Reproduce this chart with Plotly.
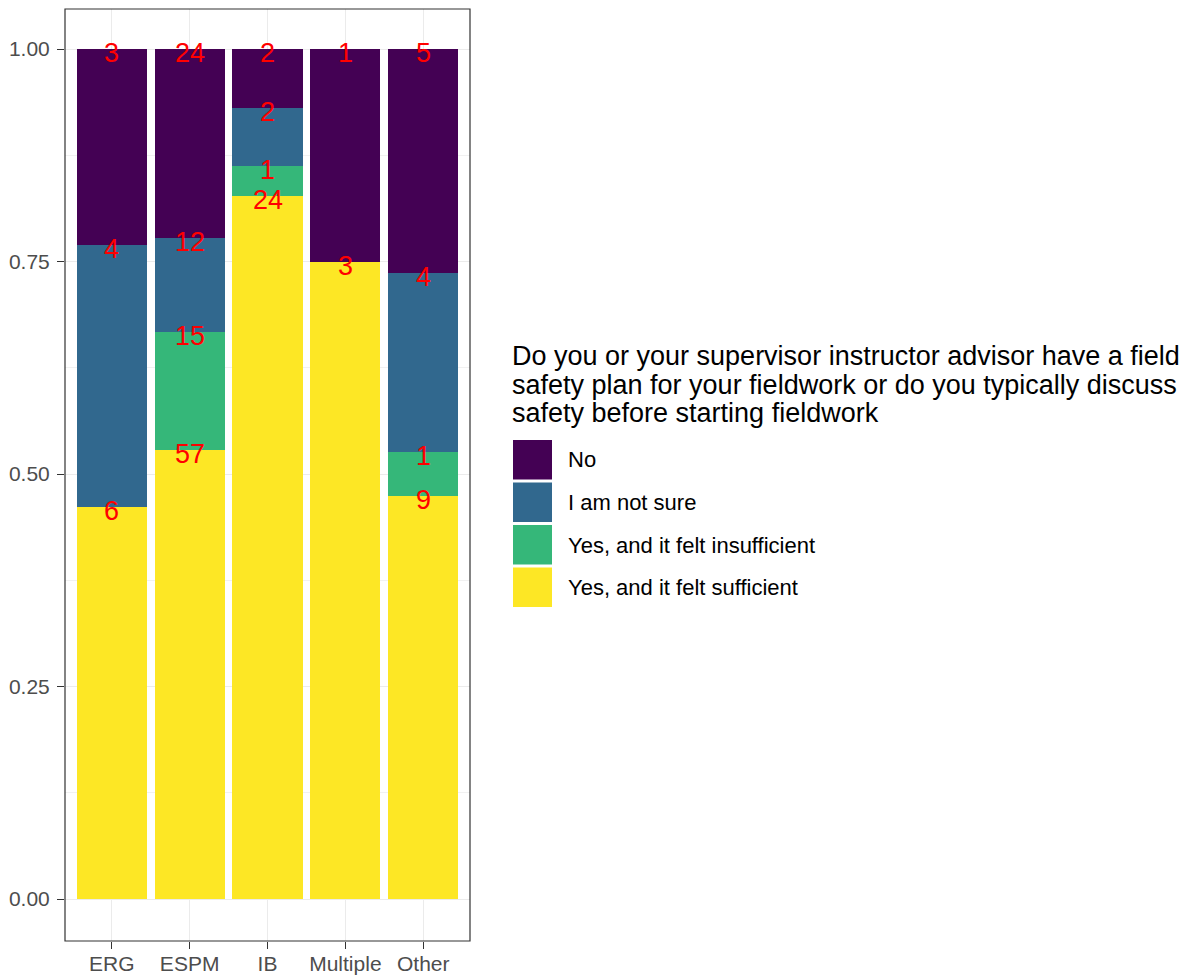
import plotly.graph_objects as go

# ---- data ----
categories = ["ERG", "ESPM", "IB", "Multiple", "Other"]
responses = ["No", "I am not sure", "Yes, and it felt insufficient", "Yes, and it felt sufficient"]
count_no = [3, 24, 2, 1, 5]
count_not_sure = [4, 12, 2, 0, 4]
count_insufficient = [0, 15, 1, 0, 1]
count_sufficient = [6, 57, 24, 3, 9]
colors = ["#440154", "#31688E", "#35B779", "#FDE725"]
legend_title_lines = [
    "Do you or your supervisor instructor advisor have a field",
    "safety plan for your fieldwork or do you typically discuss",
    "safety before starting fieldwork",
]
y_ticks = [0, 0.25, 0.5, 0.75, 1.0]
y_tick_labels = ["0.00", "0.25", "0.50", "0.75", "1.00"]

OFF = 8  # page body margin
W, H = 1196 - OFF, 977 - OFF
PANEL_L, PANEL_R, PANEL_T, PANEL_B = 65, 470, 9, 941  # page pixels
ML, MR, MT, MB = PANEL_L - OFF, W - (PANEL_R - OFF), PANEL_T - OFF, H - (PANEL_B - OFF)
PW = PANEL_R - PANEL_L
PH = PANEL_B - PANEL_T
Y0_PX, Y1_PX = 899, 49  # page pixel rows of 0 and 1
UNIT = (Y0_PX - Y1_PX)
Y_RANGE = [-(PANEL_B - Y0_PX) / UNIT, 1 + (Y1_PX - PANEL_T) / UNIT]
FONT = "Liberation Sans, Arial, Helvetica, sans-serif"


def px(x):
    return (x - PANEL_L) / PW


def py(y):
    return (PANEL_B - y) / PH


counts = {
    "No": count_no,
    "I am not sure": count_not_sure,
    "Yes, and it felt insufficient": count_insufficient,
    "Yes, and it felt sufficient": count_sufficient,
}
totals = [sum(v) for v in zip(count_no, count_not_sure, count_insufficient, count_sufficient)]

fig = go.Figure()
stack_order = list(reversed(responses))
cum = [0.0] * len(categories)
for resp in stack_order:
    vals = counts[resp]
    props = [v / t for v, t in zip(vals, totals)]
    fig.add_trace(go.Bar(
        x=categories, y=props, name=resp, width=0.9,
        marker=dict(color=colors[responses.index(resp)], line=dict(width=0)),
        showlegend=False,
    ))
    for i, (v, p) in enumerate(zip(vals, props)):
        cum[i] += p
        if v > 0:
            fig.add_annotation(
                x=categories[i], y=cum[i], xref="x", yref="y", text=str(v),
                showarrow=False, xanchor="center", yanchor="middle", yshift=-4,
                font=dict(color="#FF0000", size=27, family=FONT),
            )

fig.update_layout(
    barmode="stack",
    width=W, height=H,
    margin=dict(l=ML, r=MR, t=MT, b=MB, autoexpand=False),
    paper_bgcolor="white", plot_bgcolor="white",
    font=dict(family=FONT),
    bargap=0.1,
    showlegend=False,
)
fig.update_xaxes(
    range=[-0.6, 4.6], showgrid=True, gridcolor="#EBEBEB", gridwidth=1.2,
    ticks="outside", ticklen=7, tickwidth=1.2, tickcolor="#333333",
    ticklabelstandoff=-3,
    tickfont=dict(size=21, color="#4D4D4D", family=FONT),
    showline=False, zeroline=False, automargin=False, fixedrange=True,
)
fig.update_yaxes(
    range=Y_RANGE, tickvals=y_ticks, ticktext=y_tick_labels,
    showgrid=True, gridcolor="#EBEBEB", gridwidth=1.2,
    minor=dict(tickvals=[0.125, 0.375, 0.625, 0.875], showgrid=True, gridcolor="#F1F1F1", gridwidth=0.8, ticks=""),
    ticks="outside", ticklen=7, tickwidth=1.2, tickcolor="#333333",
    ticklabelstandoff=3,
    tickfont=dict(size=21, color="#4D4D4D", family=FONT),
    showline=False, zeroline=False, automargin=False, fixedrange=True,
)

# panel border (theme_bw)
fig.add_shape(
    type="rect", xref="paper", yref="paper", x0=0, x1=1, y0=0, y1=1,
    line=dict(color="#333333", width=1.2), fillcolor="rgba(0,0,0,0)", layer="above",
)

# custom legend (ggplot style)
title_centers = [356, 385, 413]
for line, yc in zip(legend_title_lines, title_centers):
    fig.add_annotation(
        x=px(510), y=py(yc), xref="paper", yref="paper", text=line,
        showarrow=False, xanchor="left", yanchor="middle",
        font=dict(size=27, color="black", family=FONT),
    )
key_top = 440
key_pitch = 42.5
for k, resp in enumerate(responses):
    y0 = key_top + k * key_pitch
    fig.add_shape(
        type="rect", xref="paper", yref="paper",
        x0=px(513), x1=px(552), y0=py(y0), y1=py(y0 + 39.5),
        fillcolor=colors[k], line=dict(width=0),
    )
    fig.add_annotation(
        x=px(566), y=py(y0 + 20), xref="paper", yref="paper", text=resp,
        showarrow=False, xanchor="left", yanchor="middle",
        font=dict(size=22, color="black", family=FONT),
    )

fig.write_html("out.html")
